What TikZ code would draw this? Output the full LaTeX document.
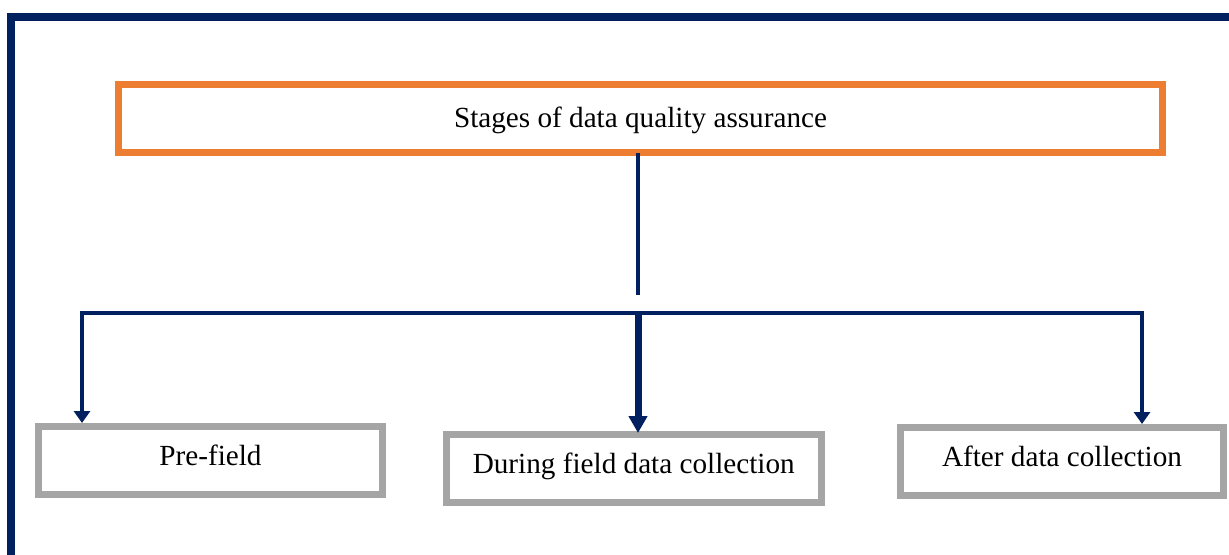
\documentclass[tikz,border=0pt]{standalone}
\usepackage{fontspec}
\setmainfont{Liberation Serif}
\usetikzlibrary{arrows.meta}
\definecolor{navy}{HTML}{002060}
\definecolor{accent}{HTML}{ED7D31}
\definecolor{boxgray}{HTML}{A5A5A5}
\begin{document}
\begin{tikzpicture}[x=0.5pt,y=-0.5pt,
  labelfont/.style={font=\fontsize{14.6}{17}\selectfont},
  titlebox/.style={draw=accent, line width=3.5pt, minimum width=522pt,
    minimum height=34pt, inner sep=0pt, labelfont,
    text height=11pt, text depth=2.5pt},
  stagebox/.style={draw=boxgray, line width=3.5pt, minimum height=34pt,
    inner sep=0pt, labelfont, text height=9.5pt, text depth=4.5pt},
  link/.style={draw=navy, line width=2pt},
  thinarrow/.style={draw=navy, line width=2pt,
    -{Triangle[width=8pt,length=6pt]}},
  bigarrow/.style={draw=navy, line width=3.5pt,
    -{Triangle[width=9pt,length=8.5pt]}}]
% page and outer frame (runs past the right and bottom edges)
\fill[white] (0,0) rectangle (1229,554);
\useasboundingbox (0,0) rectangle (1229,554);
\clip (0,0) rectangle (1229,554);
\draw[navy, line width=4pt] (11,17) rectangle (1300,620);

% boxes
\node[titlebox] (stages) at (640.5,118.5) {Stages of data quality assurance};
\node[stagebox, minimum width=172pt] (pre) at (210.5,460.5) {Pre-field};
\node[stagebox, minimum width=187.25pt] (during) at (633.75,468.5) {During field data collection};
\node[stagebox, minimum width=161.5pt] (after) at (1062,461.5) {After data collection};

% branching points
\coordinate (stemtop) at (638,153);
\coordinate (stemend) at (638,295);
\coordinate (barleft) at (82,313);
\coordinate (barmid) at (638,313);
\coordinate (barright) at (1142,313);

% connectors
\draw[link] (stemtop) -- (stemend);
\draw[link, line cap=rect] (barleft) -- (barright);
\draw[thinarrow] (barleft) -- (barleft |- pre.north);
\draw[bigarrow] (barmid) -- ([yshift=-1pt]barmid |- during.north);
\draw[thinarrow] (barright) -- (barright |- after.north);
\end{tikzpicture}
\end{document}
